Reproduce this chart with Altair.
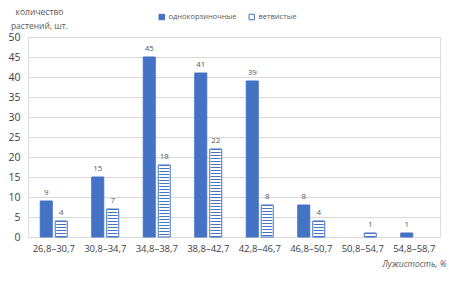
import altair as alt
import pandas as pd

categories = ["26,8–30,7", "30,8–34,7", "34,8–38,7", "38,8–42,7",
              "42,8–46,7", "46,8–50,7", "50,8–54,7", "54,8–58,7"]
series_names = ["однокорзиночные", "ветвистые"]
single_vals = [9, 15, 45, 41, 39, 8, None, 1]
branched_vals = [4, 7, 18, 22, 8, 4, 1, None]
y_ticks = [0, 5, 10, 15, 20, 25, 30, 35, 40, 45, 50]

rows = []
for c, a, b in zip(categories, single_vals, branched_vals):
    if a is not None:
        rows.append({"cat": c, "series": series_names[0], "value": a})
    if b is not None:
        rows.append({"cat": c, "series": series_names[1], "value": b})
df = pd.DataFrame(rows)

BLUE = "#4472C4"
FONT = "Open Sans"

x_enc = alt.X("cat:N", sort=categories,
              scale=alt.Scale(domain=categories, paddingInner=0.476, paddingOuter=0.238),
              axis=alt.Axis(title="Лужистость, %", labelAngle=0, labelFontSize=9.5,
                            labelColor="#404040", labelPadding=6, ticks=False,
                            domainColor="#d9d9d9", titleAnchor="end", titleX=418,
                            titleY=22, titleBaseline="top", titleFontSize=8.5,
                            titleFontStyle="italic", titleFontWeight="normal",
                            titleColor="#595959"))
xo_enc = alt.XOffset("series:N", sort=series_names,
                     scale=alt.Scale(domain=series_names, paddingInner=0.2, paddingOuter=0))
y_enc = alt.Y("value:Q", scale=alt.Scale(domain=[0, 50], nice=False),
              axis=alt.Axis(values=y_ticks, tickCount=20, title=["количество", "растений, шт."],
                            titleAngle=0, titleAlign="center", titleX=11, titleY=-30,
                            titleBaseline="top", titleFontSize=8.5, titleFontWeight="normal",
                            titleColor="#595959", titleLineHeight=14,
                            labelFontSize=10.5, labelColor="#404040", labelPadding=8,
                            labelOverlap=False,
                            ticks=False, domain=False, gridColor="#d9d9d9"))

base = alt.Chart(df)

bars = base.mark_bar(stroke=BLUE, strokeWidth=1).encode(
    x=x_enc, xOffset=xo_enc, y=y_enc,
    fill=alt.Fill("series:N", sort=series_names,
                  scale=alt.Scale(domain=series_names, range=[BLUE, "#ffffff"]),
                  legend=alt.Legend(title=None, orient="none", direction="horizontal",
                                    legendX=130, legendY=-24, symbolType="square",
                                    symbolSize=30, symbolStrokeColor=BLUE,
                                    symbolStrokeWidth=1, labelFontSize=7.5,
                                    labelColor="#595959", columnPadding=10,
                                    labelOffset=3)),
)

stripes = base.transform_filter(
    alt.datum.series == series_names[1]
).mark_rule(color=BLUE, strokeWidth=10, strokeDash=[1, 2], strokeCap="butt").encode(
    x=x_enc, xOffset=xo_enc, y=y_enc, y2=alt.datum(0),
)

labels = base.mark_text(dy=-4, baseline="bottom", fontSize=8, color="#595959").encode(
    x=x_enc, xOffset=xo_enc, y=y_enc, text=alt.Text("value:Q"),
)

chart = alt.layer(bars, stripes, labels).properties(
    width=412, height=200,
    autosize=alt.AutoSizeParams(type="none"),
    padding={"left": 28, "top": 37, "right": 9, "bottom": 45},
).configure_view(stroke=None).configure(font=FONT)

chart.save("out.html", embed_options={"renderer": "svg", "actions": False})
